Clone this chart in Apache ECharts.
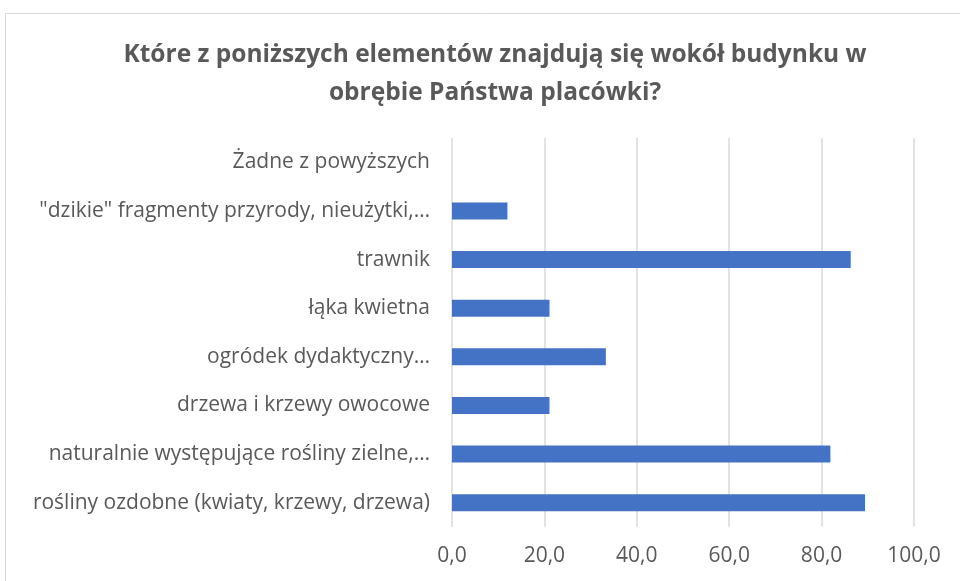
<!DOCTYPE html>
<html>
<head>
<meta charset="utf-8">
<script src="https://cdn.jsdelivr.net/npm/echarts@6/dist/echarts.min.js"></script>
<style>
  html, body { margin: 0; padding: 0; background: #fff; }
  #chart { width: 960px; height: 581px; }
</style>
</head>
<body>
<div id="chart"></div>
<script>
// categories listed bottom to top (as the category axis draws them)
const categories = [
    "rośliny ozdobne (kwiaty, krzewy, drzewa)",
    "naturalnie występujące rośliny zielne,…",
    "drzewa i krzewy owocowe",
    "ogródek dydaktyczny…",
    "łąka kwietna",
    "trawnik",
    "\"dzikie\" fragmenty przyrody, nieużytki,…",
    "Żadne z powyższych"
];
const values = [89.4, 81.9, 21.1, 33.3, 21.1, 86.3, 12.0, 0];
const xTicks = [0, 20, 40, 60, 80, 100];

const chart = echarts.init(document.getElementById("chart"));
chart.setOption({
    animation: false,
    textStyle: { fontFamily: "Open Sans" },
    title: {
        text: "Które z poniższych elementów znajdują się wokół budynku w\nobrębie Państwa placówki?",
        left: 490,
        textAlign: "center",
        top: 31,
        textStyle: {
            fontFamily: "Open Sans",
            fontSize: 24.5,
            fontWeight: "bold",
            color: "#595959",
            lineHeight: 38
        }
    },
    graphic: [{
        type: "rect",
        shape: { x: 5.5, y: 13.5, width: 1000, height: 1000 },
        style: { fill: "none", stroke: "#d9d9d9", lineWidth: 1 },
        silent: true
    }],
    grid: { left: 452, right: 46, top: 138, bottom: 54 },
    xAxis: {
        type: "value",
        min: xTicks[0],
        max: xTicks[xTicks.length - 1],
        interval: 20,
        axisLine: { show: false },
        axisTick: { show: false },
        axisLabel: {
            fontSize: 21,
            color: "#595959",
            margin: 19,
            formatter: v => v.toFixed(1).replace(".", ",")
        },
        splitLine: { lineStyle: { color: "#d9d9d9", width: 1.5 } }
    },
    yAxis: {
        type: "category",
        data: categories,
        axisLine: { show: false },
        axisTick: { show: false },
        axisLabel: { fontSize: 21, color: "#595959", margin: 22 }
    },
    series: [{
        type: "bar",
        data: values,
        barWidth: 17,
        itemStyle: { color: "#4472C4" }
    }]
});
</script>
</body>
</html>
